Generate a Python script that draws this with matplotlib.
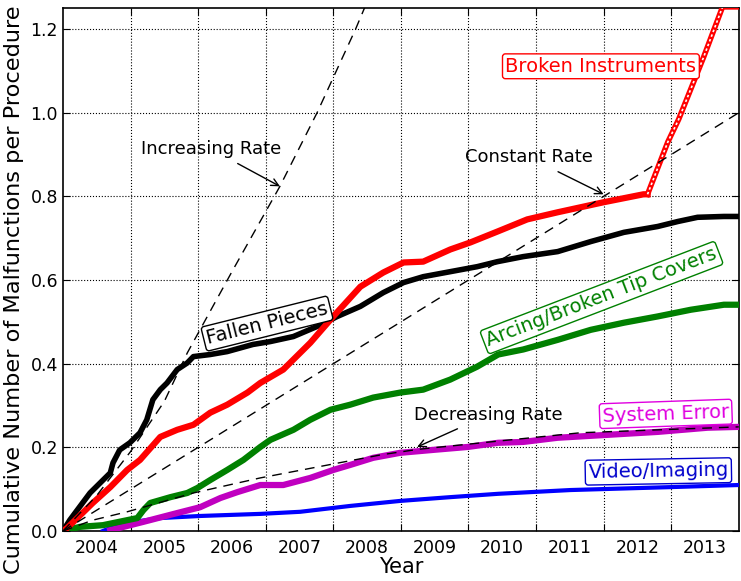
import matplotlib
matplotlib.use("Agg")
import matplotlib.pyplot as plt
from matplotlib.ticker import FixedLocator, NullFormatter, FormatStrFormatter

# cumulative malfunctions per procedure
fallen_x = [2004.00, 2004.10, 2004.40, 2004.55, 2004.70, 2004.74, 2004.84, 2004.99, 2005.14, 2005.24,
            2005.33, 2005.44, 2005.54, 2005.69, 2005.84, 2005.93, 2006.18, 2006.43, 2006.81, 2007.07,
            2007.41, 2007.76, 2008.06, 2008.40, 2008.74, 2009.04, 2009.33, 2009.73, 2010.13, 2010.43,
            2010.81, 2011.32, 2011.81, 2012.30, 2012.80, 2013.10, 2013.39, 2013.78, 2014.00]
fallen_y = [0.000, 0.026, 0.091, 0.115, 0.139, 0.163, 0.194, 0.211, 0.235, 0.266,
            0.314, 0.338, 0.354, 0.386, 0.402, 0.417, 0.422, 0.429, 0.446, 0.453,
            0.465, 0.489, 0.513, 0.537, 0.570, 0.594, 0.608, 0.620, 0.632, 0.644,
            0.656, 0.668, 0.692, 0.714, 0.728, 0.740, 0.750, 0.752, 0.752]

broken_x = [2004.00, 2004.06, 2004.44, 2004.70, 2004.95, 2005.14, 2005.44, 2005.69, 2005.93, 2006.18,
            2006.43, 2006.73, 2006.92, 2007.26, 2007.66, 2008.00, 2008.40, 2008.74, 2009.04, 2009.33,
            2009.73, 2010.03, 2010.43, 2010.87, 2011.32, 2012.00, 2012.59, 2012.65]
broken_y = [0.000, 0.007, 0.067, 0.105, 0.146, 0.170, 0.225, 0.242, 0.254, 0.283,
            0.302, 0.331, 0.354, 0.386, 0.450, 0.513, 0.584, 0.618, 0.642, 0.644,
            0.673, 0.690, 0.716, 0.745, 0.762, 0.786, 0.805, 0.805]
# the steep jump at the end (open circles in the original)
jump_x = [2012.65, 2012.95, 2013.11, 2013.48, 2013.76, 2014.00]
jump_y = [0.805, 0.930, 0.984, 1.133, 1.253, 1.253]

arcing_x = [2004.00, 2004.25, 2004.59, 2004.95, 2005.10, 2005.19, 2005.29, 2005.59, 2005.84, 2005.99,
            2006.18, 2006.43, 2006.67, 2006.92, 2007.07, 2007.41, 2007.66, 2007.96, 2008.25, 2008.59,
            2008.99, 2009.33, 2009.73, 2010.13, 2010.44, 2010.81, 2011.32, 2011.81, 2012.30, 2012.80,
            2013.29, 2013.78, 2014.00]
arcing_y = [0.000, 0.010, 0.014, 0.026, 0.031, 0.050, 0.067, 0.081, 0.091, 0.103,
            0.122, 0.146, 0.170, 0.201, 0.218, 0.242, 0.266, 0.290, 0.302, 0.319,
            0.331, 0.338, 0.362, 0.393, 0.422, 0.434, 0.457, 0.481, 0.498, 0.513,
            0.529, 0.541, 0.541]

system_x = [2004.70, 2005.19, 2005.69, 2006.03, 2006.33, 2006.58, 2006.92, 2007.26, 2007.66, 2008.00,
            2008.25, 2008.59, 2008.99, 2009.48, 2009.99, 2010.44, 2010.81, 2011.32, 2012.06, 2012.80,
            2013.54, 2014.00]
system_y = [0.002, 0.022, 0.043, 0.057, 0.079, 0.093, 0.110, 0.110, 0.127, 0.146,
            0.158, 0.175, 0.187, 0.194, 0.201, 0.211, 0.213, 0.223, 0.230, 0.237,
            0.247, 0.249]

video_x = [2004.59, 2004.77, 2005.14, 2005.44, 2006.03, 2006.92, 2007.51, 2008.25, 2008.99, 2009.73,
           2010.44, 2011.51, 2012.99, 2014.00]
video_y = [0.000, 0.012, 0.024, 0.031, 0.036, 0.041, 0.046, 0.060, 0.072, 0.081,
           0.089, 0.098, 0.105, 0.110]

# dashed reference trends
inc_x = [2004.00, 2004.50, 2005.00, 2005.50, 2005.84, 2006.50, 2007.21, 2007.76, 2008.33, 2008.50]
inc_y = [0.000, 0.085, 0.190, 0.310, 0.426, 0.620, 0.824, 1.000, 1.200, 1.265]
const_x = [2004.0, 2014.0]
const_y = [0.0, 1.0]
dec_x = [2004.00, 2004.44, 2004.95, 2005.93, 2006.92, 2008.70, 2009.24, 2010.44, 2011.66, 2014.00]
dec_y = [0.000, 0.026, 0.046, 0.091, 0.127, 0.182, 0.195, 0.215, 0.235, 0.249]

years = list(range(2004, 2014))

fig = plt.figure(figsize=(7.41, 5.81), dpi=100)
ax = fig.add_axes([0.085, 0.086, 0.912, 0.9])

ax.plot(video_x, video_y, color="blue", lw=3.0, solid_joinstyle="round", zorder=3)
ax.plot(system_x, system_y, color="#c000c0", lw=4.5, solid_joinstyle="round", zorder=3)
ax.plot(arcing_x, arcing_y, color="green", lw=4.5, solid_joinstyle="round", zorder=3)
ax.plot(fallen_x, fallen_y, color="black", lw=4.0, solid_joinstyle="round", zorder=3)
ax.plot(broken_x, broken_y, color="red", lw=4.5, solid_joinstyle="round", zorder=3)
# hollow look for the sparse part of the red series
ax.plot(jump_x, jump_y, color="red", lw=4.0, zorder=3)
ax.plot(jump_x, jump_y, color="white", lw=1.2, linestyle=(0, (1.5, 1.5)), zorder=3)

for tx, ty in [(inc_x, inc_y), (const_x, const_y), (dec_x, dec_y)]:
    ax.plot(tx, ty, color="black", lw=1.0, linestyle=(0, (7, 5)), zorder=4)

ax.set_xlim(2004, 2014)
ax.set_ylim(0, 1.25)

# gridlines on year boundaries, labels in the middle of each year
ax.xaxis.set_major_locator(FixedLocator([y + 1 for y in years[:-1]]))
ax.xaxis.set_major_formatter(NullFormatter())
ax.xaxis.set_minor_locator(FixedLocator([y + 0.5 for y in years]))
ax.set_xticklabels([str(y) for y in years], minor=True)
ax.set_yticks([0.0, 0.2, 0.4, 0.6, 0.8, 1.0, 1.2])
ax.yaxis.set_major_formatter(FormatStrFormatter("%.1f"))

ax.tick_params(which="major", direction="in", length=5, top=True, right=True, labelsize=12.5)
ax.tick_params(which="minor", length=0, labelsize=12.5, pad=6)
ax.grid(True, which="major", color="black", linestyle=":", linewidth=0.8)
for s in ax.spines.values():
    s.set_linewidth(1.2)

ax.set_xlabel("Year", fontsize=15, labelpad=0)
ax.set_ylabel("Cumulative Number of Malfunctions per Procedure", fontsize=16.2)
ax.yaxis.set_label_coords(-0.057, 0.462)

# series labels
labels = [
    ("Broken Instruments", 2011.96, 1.111, 0, "red"),
    ("Fallen Pieces", 2007.02, 0.496, 14, "black"),
    ("Arcing/Broken Tip Covers", 2011.97, 0.558, 21, "green"),
    ("System Error", 2012.92, 0.280, 2, "#e000e0"),
    ("Video/Imaging", 2012.81, 0.1425, 1, "#0000cc"),
]
for text, lx, ly, rot, col in labels:
    ax.text(lx, ly, text, color=col, fontsize=14, rotation=rot, ha="center", va="center",
            rotation_mode="anchor", zorder=6,
            bbox=dict(boxstyle="round,pad=0.15", fc="white", ec=col, lw=1.0))

# trend annotations
arrows = [
    ("Increasing Rate", 2007.21, 0.824, 2006.19, 0.913),
    ("Constant Rate", 2012.00, 0.805, 2010.90, 0.893),
    ("Decreasing Rate", 2009.24, 0.201, 2010.30, 0.278),
]
for text, x0, y0, x1, y1 in arrows:
    ax.annotate(text, xy=(x0, y0), xytext=(x1, y1), fontsize=13, ha="center", va="center",
                zorder=6, arrowprops=dict(arrowstyle="->", color="black", lw=1.0,
                                          shrinkA=4, shrinkB=0))

fig.savefig("out.png", dpi=100)
